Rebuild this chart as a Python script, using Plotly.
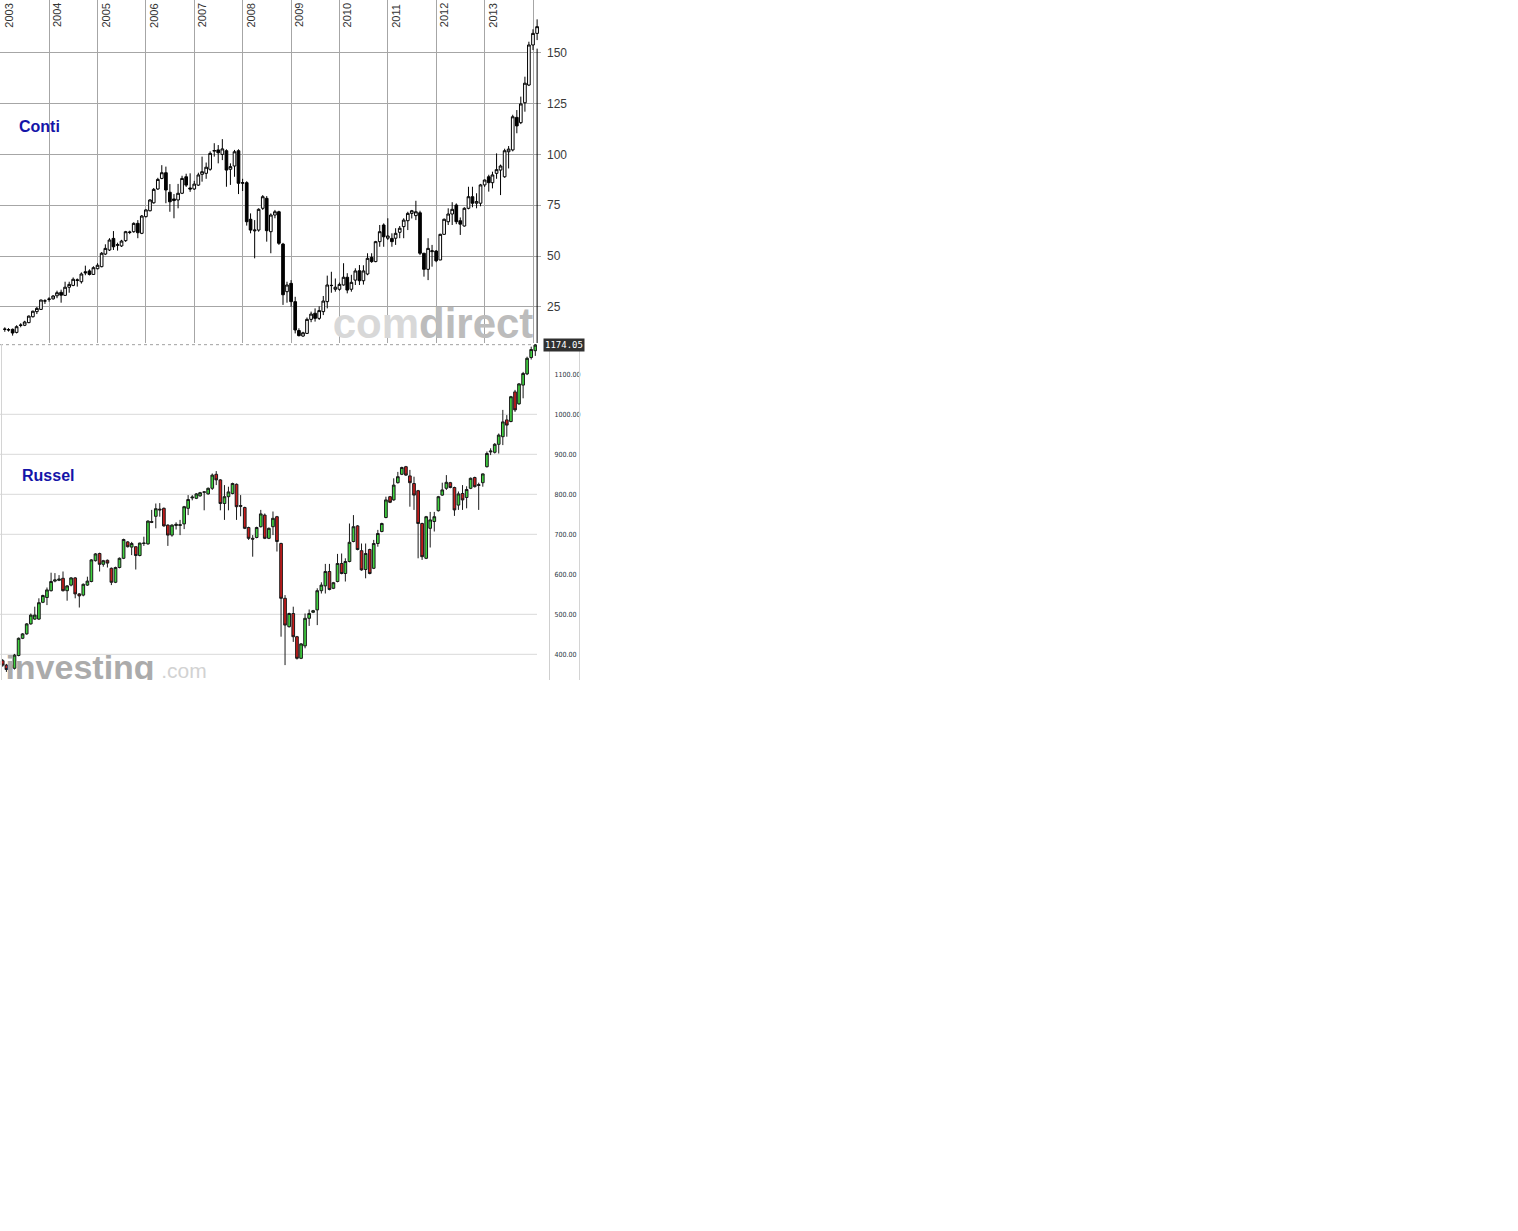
import pandas as pd
import plotly.graph_objects as go

# ---------------- data (monthly candles, Feb 2003 .. Feb 2014) ----------------
months = pd.date_range("2003-02-01", periods=133, freq="MS")

conti_open = [14.0, 13.7, 14.0, 12.5, 15.9, 16.0, 17.3, 20.2, 22.7, 23.8, 27.9, 28.7, 29.0, 30.5, 32.2, 30.7, 34.7, 35.6, 38.0, 37.4,
              42.3, 42.7, 41.0, 43.8, 44.8, 51.0, 53.0, 58.7, 55.3, 55.0, 57.6, 61.6, 62.0, 66.1, 61.2, 69.4, 72.3, 76.2, 83.0, 88.2,
              91.0, 81.4, 78.1, 77.6, 80.9, 89.0, 83.5, 83.0, 84.9, 90.2, 90.7, 92.7, 101.6, 102.2, 100.0, 101.8, 92.7, 94.3, 101.8, 85.8,
              86.1, 68.1, 62.4, 62.8, 73.5, 78.4, 62.0, 70.2, 71.8, 55.9, 32.5, 36.6, 27.6, 13.4, 10.7, 12.0, 18.9, 21.9, 19.4, 22.7,
              27.6, 35.5, 33.7, 33.7, 35.8, 39.6, 33.7, 38.2, 42.8, 37.9, 41.2, 49.4, 47.3, 57.1, 65.3, 58.8, 58.7, 58.8, 61.7, 64.5,
              67.4, 71.0, 69.9, 71.3, 51.4, 43.5, 52.2, 52.5, 48.1, 60.7, 66.9, 70.7, 75.1, 67.4, 64.8, 73.5, 79.2, 76.0, 76.0, 85.0,
              89.0, 86.1, 90.7, 92.3, 89.0, 101.3, 102.2, 118.2, 115.6, 125.4, 134.1, 153.8, 159.5]
conti_high = [15.0, 14.6, 14.4, 16.0, 17.0, 18.2, 20.8, 23.2, 25.0, 28.6, 28.8, 29.8, 30.8, 33.0, 33.5, 37.4, 37.4, 39.5, 39.0, 42.0,
              45.3, 43.5, 45.0, 46.5, 52.0, 55.8, 58.8, 62.3, 56.6, 58.0, 62.4, 62.5, 66.6, 67.7, 70.2, 73.0, 78.0, 83.5, 88.5, 94.7,
              94.0, 85.4, 80.5, 85.5, 89.5, 90.5, 90.7, 87.0, 91.0, 98.9, 96.0, 101.5, 105.5, 104.6, 107.5, 102.5, 95.6, 102.2, 102.5, 88.0,
              86.8, 71.0, 67.7, 73.5, 80.0, 79.5, 71.0, 72.7, 72.3, 56.5, 37.4, 38.2, 30.0, 14.5, 12.8, 19.8, 22.7, 24.3, 25.3, 30.4,
              40.4, 42.3, 39.0, 37.0, 46.5, 41.6, 40.8, 44.0, 45.6, 45.5, 51.4, 51.4, 57.5, 65.3, 66.1, 68.6, 61.2, 63.7, 64.8, 68.6,
              71.8, 72.7, 77.2, 72.3, 51.6, 58.8, 55.5, 53.0, 61.0, 68.5, 73.5, 76.5, 75.9, 69.0, 74.0, 84.1, 84.1, 80.9, 85.5, 87.6,
              90.0, 91.5, 100.5, 95.0, 102.8, 104.1, 119.5, 121.8, 128.4, 138.2, 155.4, 161.5, 166.4]
conti_low = [12.8, 12.9, 10.9, 12.0, 15.0, 15.6, 17.0, 19.8, 21.5, 23.5, 26.5, 27.6, 28.6, 29.3, 27.1, 30.5, 32.0, 35.2, 35.0, 36.5,
             40.6, 40.5, 40.8, 43.5, 44.5, 50.5, 52.5, 53.0, 52.7, 54.5, 57.0, 60.8, 61.5, 58.8, 60.8, 69.0, 72.0, 75.8, 82.5, 87.8,
             76.0, 71.8, 68.6, 73.5, 80.5, 84.0, 81.6, 82.5, 84.5, 86.6, 88.0, 92.0, 98.9, 95.6, 97.2, 84.1, 85.0, 89.0, 80.5, 82.0,
             65.0, 61.2, 48.9, 62.0, 72.7, 57.1, 51.4, 68.6, 55.5, 26.0, 27.1, 25.1, 12.0, 10.5, 10.3, 11.8, 17.5, 17.8, 18.6, 21.0,
             24.3, 32.0, 32.5, 33.0, 35.5, 31.7, 32.5, 35.8, 35.8, 36.0, 40.6, 46.7, 47.0, 54.6, 54.6, 57.9, 54.6, 55.5, 58.8, 58.8,
             62.8, 68.5, 67.7, 50.5, 39.9, 38.2, 44.8, 47.0, 48.0, 60.5, 65.3, 65.3, 65.7, 60.4, 64.5, 73.0, 74.0, 73.5, 74.5, 84.0,
             81.7, 83.3, 88.0, 80.0, 88.5, 93.1, 101.5, 110.4, 114.9, 121.0, 133.6, 151.3, 156.2]
conti_close = [14.1, 13.8, 12.2, 15.3, 16.1, 17.6, 20.5, 22.9, 24.3, 28.4, 28.0, 28.9, 30.4, 32.0, 30.8, 34.7, 36.1, 38.6, 38.3, 41.2,
               41.8, 41.0, 44.3, 45.5, 51.4, 53.8, 57.9, 54.6, 55.6, 57.4, 62.0, 61.8, 66.1, 61.5, 69.7, 72.7, 77.6, 82.8, 87.7, 91.0,
               82.5, 76.7, 77.3, 80.9, 88.2, 84.9, 83.0, 85.4, 89.9, 91.5, 93.7, 100.5, 101.9, 100.8, 102.7, 92.3, 94.0, 101.3, 85.8, 86.1,
               66.9, 62.8, 62.8, 73.0, 79.2, 62.5, 70.2, 71.8, 56.3, 31.0, 35.8, 27.6, 13.7, 10.9, 12.3, 18.9, 21.5, 19.4, 23.2, 27.9,
               35.8, 35.6, 34.7, 36.1, 39.6, 33.3, 37.1, 42.7, 37.9, 42.7, 48.9, 47.3, 57.1, 62.0, 59.5, 59.9, 57.1, 61.2, 63.7, 67.7,
               71.0, 72.3, 71.8, 51.4, 43.5, 53.8, 52.6, 47.7, 60.7, 68.1, 70.7, 73.0, 66.9, 65.7, 73.5, 79.2, 76.0, 76.8, 85.0, 87.4,
               86.1, 89.9, 92.5, 94.3, 101.8, 102.6, 118.5, 114.0, 124.8, 135.0, 153.8, 159.5, 162.8]
conti_spike = [152.0, 0.0]

russell_open = [384, 373, 366, 365, 397, 440, 451, 476, 488, 488, 530, 542, 559, 583, 585, 590, 559, 573, 591, 551,
                548, 573, 582, 634, 652, 625, 635, 615, 580, 617, 640, 681, 668, 669, 647, 677, 676, 732, 745, 763,
                765, 723, 698, 722, 722, 726, 765, 791, 790, 796, 805, 801, 815, 850, 836, 777, 794, 802, 825, 772,
                767, 717, 690, 692, 719, 748, 690, 719, 744, 677, 540, 469, 502, 444, 390, 421, 490, 505, 511, 559,
                571, 607, 565, 582, 627, 602, 632, 682, 721, 659, 612, 662, 615, 677, 707, 742, 794, 786, 829, 850,
                869, 846, 827, 809, 727, 640, 715, 732, 759, 798, 815, 829, 817, 773, 802, 792, 815, 842, 822, 829,
                869, 906, 905, 925, 944, 986, 982, 1056, 1026, 1073, 1101, 1142, 1159]
russell_high = [388, 376, 382, 401, 442, 453, 478, 502, 519, 540, 549, 567, 604, 603, 598, 607, 573, 593, 593, 553,
                577, 594, 638, 653, 654, 636, 637, 617, 619, 642, 689, 683, 681, 669, 679, 694, 735, 761, 777, 778,
                767, 725, 725, 730, 736, 771, 798, 798, 803, 806, 807, 817, 852, 858, 838, 823, 819, 829, 827, 798,
                769, 719, 698, 719, 761, 752, 717, 757, 746, 679, 548, 504, 519, 446, 428, 502, 512, 511, 565, 580,
                626, 626, 581, 651, 652, 640, 727, 748, 723, 677, 677, 664, 686, 711, 729, 794, 796, 840, 856, 869,
                871, 861, 844, 811, 729, 746, 756, 756, 796, 829, 848, 831, 819, 807, 823, 820, 842, 844, 829, 852,
                907, 915, 928, 952, 1011, 998, 1046, 1061, 1078, 1106, 1144, 1169, 1182]
russell_low = [369, 356, 347, 362, 395, 438, 449, 474, 486, 486, 528, 523, 557, 580, 583, 557, 534, 570, 540, 517,
               545, 571, 580, 632, 607, 619, 617, 573, 578, 615, 638, 667, 648, 612, 645, 671, 674, 728, 715, 744,
               719, 671, 694, 712, 698, 713, 748, 785, 788, 794, 760, 799, 811, 823, 760, 736, 760, 800, 736, 745,
               713, 686, 644, 690, 717, 688, 688, 698, 657, 444, 373, 467, 431, 387, 388, 415, 471, 503, 473, 552,
               552, 560, 563, 580, 600, 582, 630, 680, 660, 609, 590, 600, 613, 669, 705, 740, 778, 784, 827, 848,
               846, 769, 761, 640, 636, 638, 667, 707, 757, 796, 811, 815, 746, 761, 761, 765, 813, 817, 761, 819,
               867, 898, 902, 902, 923, 944, 980, 1006, 1024, 1040, 1098, 1137, 1146]
russell_close = [373, 362, 374, 398, 440, 451, 476, 498, 498, 529, 547, 561, 582, 586, 588, 559, 571, 591, 551, 546,
                 575, 583, 636, 651, 625, 634, 628, 580, 617, 640, 687, 669, 677, 647, 678, 678, 733, 730, 764, 761,
                 721, 698, 723, 725, 724, 769, 787, 793, 801, 804, 806, 815, 848, 836, 777, 794, 806, 827, 769, 770,
                 715, 690, 688, 717, 751, 690, 715, 740, 682, 540, 473, 502, 444, 390, 426, 490, 502, 509, 559, 573,
                 607, 562, 579, 627, 602, 632, 680, 719, 662, 611, 652, 602, 677, 702, 727, 786, 780, 823, 844, 867,
                 848, 829, 798, 727, 644, 744, 736, 744, 794, 811, 830, 817, 761, 801, 786, 812, 840, 819, 824, 851,
                 902, 908, 925, 948, 981, 973, 1044, 1011, 1076, 1102, 1140, 1162, 1173]
russell_last = 1174.05

conti_ticks = [25, 50, 75, 100, 125, 150]
russell_ticks = [400, 500, 600, 700, 800, 900, 1000, 1100]
russell_grid = [400, 500, 700, 800, 900, 1000]
year_lines = pd.date_range("2003-01-01", "2014-01-01", freq="YS")
year_labels = [str(d.year) for d in year_lines[:-1]]

# ---------------- geometry ----------------
W, H = 1518, 1231
DAY = pd.Timedelta(days=1)


def ts(t):
    return t.strftime("%Y-%m-%d %H:%M:%S")


# top chart (comdirect)
T_TOP, T_BOT, T_RIGHT = 0, 343, 541
ppd_top = 532.3 / 4018
tx0 = pd.Timestamp("2003-01-01") - 0.7 / ppd_top * DAY
tx1 = tx0 + T_RIGHT / ppd_top * DAY
ty0, ty1 = 7.28, 175.91

# bottom chart (investing)
B_TOP, B_BOT, B_RIGHT, B_AXIS = 344, 680, 537, 549
ppd_bot = 532.6 / 4018
bx0 = months[0] - 2.7 / ppd_bot * DAY
bx1 = bx0 + B_RIGHT / ppd_bot * DAY
by0, by1 = 335.75, 1175.75


def px_to_x(px, x0, ppd):
    return x0 + px / ppd * DAY


def py_to_y(py, top, bot, r0, r1):
    return r1 - (py - top) / (bot - top) * (r1 - r0)


fig = go.Figure()

# watermark comdirect (drawn first, clipped by the subplot)
fig.add_trace(go.Scatter(
    x=[px_to_x(433, tx0, ppd_top)], y=[py_to_y(327.5, T_TOP, T_BOT, ty0, ty1)],
    mode="text", xaxis="x", yaxis="y", hoverinfo="skip",
    text=['<b><span style="color:#d8d8d8">com</span><span style="color:#bcbcbc">direct</span></b>'],
    textfont=dict(family="Liberation Sans, Arial", size=42), textposition="middle center"))

fig.add_trace(go.Candlestick(
    x=months, open=conti_open, high=conti_high, low=conti_low, close=conti_close,
    xaxis="x", yaxis="y", whiskerwidth=0, hoverinfo="skip",
    increasing=dict(line=dict(color="#000000", width=1), fillcolor="#ffffff"),
    decreasing=dict(line=dict(color="#000000", width=1), fillcolor="#000000")))

fig.add_trace(go.Scatter(
    x=[months[-1], months[-1]], y=conti_spike, mode="lines", xaxis="x", yaxis="y",
    line=dict(color="#000000", width=1), hoverinfo="skip"))

# watermark investing.com
fig.add_trace(go.Scatter(
    x=[px_to_x(80, bx0, ppd_bot)], y=[py_to_y(670, B_TOP, B_BOT, by0, by1)],
    mode="text", xaxis="x2", yaxis="y2", hoverinfo="skip",
    text=["<b>investing</b>"], textfont=dict(family="Liberation Sans, Arial", size=34, color="#ababab"),
    textposition="middle center"))
fig.add_trace(go.Scatter(
    x=[px_to_x(184, bx0, ppd_bot)], y=[py_to_y(673, B_TOP, B_BOT, by0, by1)],
    mode="text", xaxis="x2", yaxis="y2", hoverinfo="skip",
    text=[".com"], textfont=dict(family="Liberation Sans, Arial", size=21, color="#d2d2d2"),
    textposition="middle center"))

fig.add_trace(go.Candlestick(
    x=months, open=russell_open, high=russell_high, low=russell_low, close=russell_close,
    xaxis="x2", yaxis="y2", whiskerwidth=0, hoverinfo="skip",
    increasing=dict(line=dict(color="#1a1a1a", width=1), fillcolor="#3fd23f"),
    decreasing=dict(line=dict(color="#1a1a1a", width=1), fillcolor="#c81c1c")))

shapes = []
for v in russell_grid:
    shapes.append(dict(type="line", xref="x2 domain", x0=0, x1=1, yref="y2", y0=v, y1=v,
                       line=dict(color="#d9d9d9", width=1), layer="below"))
shapes.append(dict(type="line", xref="x2 domain", x0=0, x1=1, yref="y2", y0=russell_last, y1=russell_last,
                   line=dict(color="#a0a0a0", width=1, dash="dot"), layer="below"))
for xp in (1.5, 579.5):
    shapes.append(dict(type="line", xref="paper", x0=xp / W, x1=xp / W, yref="paper",
                       y0=1 - B_BOT / H, y1=1 - B_TOP / H, line=dict(color="#d4d4d4", width=1)))

annotations = []
for d, lab in zip(year_lines[:-1], year_labels):
    annotations.append(dict(x=ts(d), xref="x", y=1, yref="paper", text=lab, showarrow=False,
                            textangle=-90, xanchor="center", yanchor="top", xshift=7.5, yshift=-1.5,
                            font=dict(family="Liberation Sans, Arial", size=11, color="#333333")))
annotations.append(dict(x=16.5 / W, xref="paper", y=1 - 126.7 / H, yref="paper", text="<b>Conti</b>",
                        showarrow=False, xanchor="left", yanchor="middle",
                        font=dict(family="Liberation Sans, Arial", size=16, color="#1414a8")))
annotations.append(dict(x=19.7 / W, xref="paper", y=1 - 475 / H, yref="paper", text="<b>Russel</b>",
                        showarrow=False, xanchor="left", yanchor="middle",
                        font=dict(family="Liberation Sans, Arial", size=16, color="#1414a8")))
annotations.append(dict(x=543 / W, xref="paper", y=russell_last, yref="y2", text=f"{russell_last:.2f}",
                        showarrow=False, xanchor="left", yanchor="middle", bgcolor="#303030", borderpad=1,
                        font=dict(family="DejaVu Sans Mono, monospace", size=9, color="#ffffff")))

fig.update_layout(
    width=W, height=H, margin=dict(l=0, r=0, t=0, b=0),
    paper_bgcolor="#ffffff", plot_bgcolor="#ffffff", showlegend=False,
    boxgap=0.28, boxgroupgap=0,
    xaxis=dict(domain=[0, T_RIGHT / W], anchor="y", type="date", range=[ts(tx0), ts(tx1)],
               tickvals=[ts(d) for d in year_lines], showticklabels=False, ticks="",
               showgrid=True, gridcolor="#a6a6a6", gridwidth=1, zeroline=False,
               rangeslider=dict(visible=False), fixedrange=True),
    yaxis=dict(domain=[1 - T_BOT / H, 1 - T_TOP / H], anchor="x", side="right", range=[ty0, ty1],
               tickvals=conti_ticks, ticks="", showgrid=True, gridcolor="#a6a6a6", gridwidth=1,
               zeroline=False, showline=False, ticklabelstandoff=5,
               tickfont=dict(family="Liberation Sans, Arial", size=12, color="#3a3a3a")),
    xaxis2=dict(domain=[0, B_RIGHT / W], anchor="y2", type="date", range=[ts(bx0), ts(bx1)],
                showticklabels=False, ticks="", showgrid=False, zeroline=False,
                rangeslider=dict(visible=False)),
    yaxis2=dict(domain=[1 - B_BOT / H, 1 - B_TOP / H], anchor="free", position=B_AXIS / W, side="right",
                range=[by0, by1], tickvals=russell_ticks, tickformat=".2f", ticks="",
                showgrid=False, zeroline=False, showline=True, linecolor="#cfcfcf", linewidth=1,
                ticklabelstandoff=3,
                tickfont=dict(family="DejaVu Sans Condensed, Liberation Sans", size=7, color="#2a3440")),
    shapes=shapes, annotations=annotations,
)

fig.write_html("out.html", config={"displayModeBar": False},
               post_script="document.body.style.margin='0px';document.body.style.padding='0px';")
